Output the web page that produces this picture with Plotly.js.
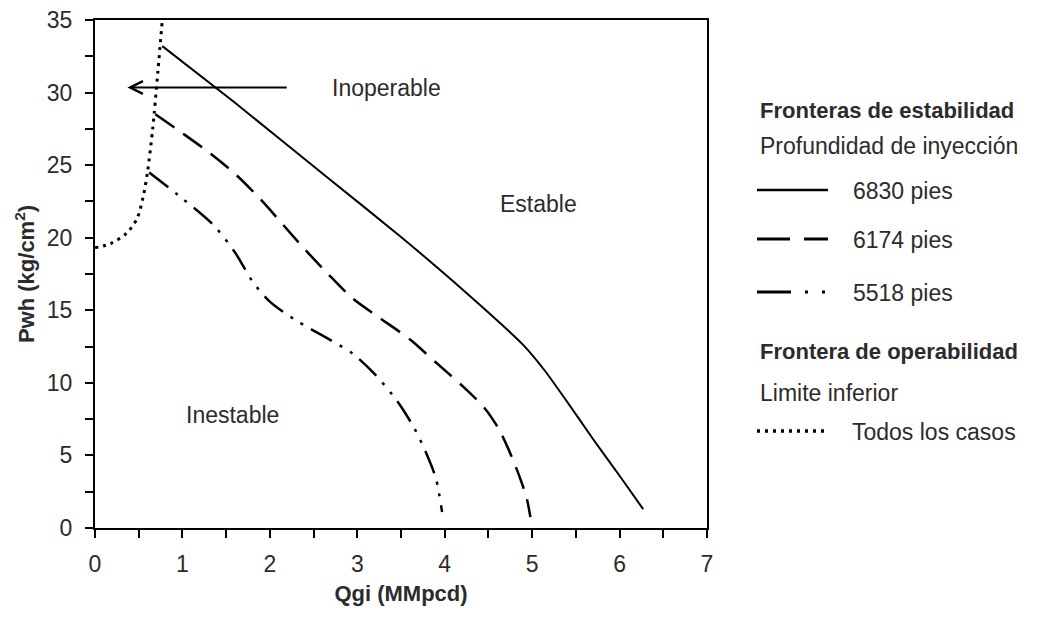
<!DOCTYPE html>
<html>
<head>
<meta charset="utf-8">
<script src="https://cdn.plot.ly/plotly-3.0.1.min.js"></script>
<style>html,body{margin:0;padding:0;background:#fff;}</style>
</head>
<body>
<div id="chart" style="width:1040px;height:617px;"></div>
<script>
// ---- data ----
const qgi6830 = [0.77, 1.58, 2.69, 3.49, 4.21, 4.90, 5.15, 5.40, 5.70, 6.00, 6.27];
const pwh6830 = [33.2, 29.4, 24.0, 20.1, 16.4, 12.6, 10.8, 8.7, 6.1, 3.6, 1.3];

const qgi6174 = [0.69, 1.00, 1.32, 1.62, 1.90, 2.15, 2.40, 2.65, 2.95, 3.25, 3.60, 3.90, 4.20, 4.45, 4.62, 4.76, 4.87, 4.94, 4.98];
const pwh6174 = [28.5, 27.2, 25.8, 24.3, 22.6, 20.9, 19.2, 17.6, 15.8, 14.5, 13.0, 11.4, 9.8, 8.3, 6.8, 5.0, 3.3, 2.0, 0.75];

const qgi5518 = [0.62, 1.00, 1.35, 1.60, 1.80, 2.00, 2.30, 2.65, 2.95, 3.20, 3.45, 3.65, 3.80, 3.90, 3.97];
const pwh5518 = [24.5, 22.7, 20.9, 19.0, 17.0, 15.6, 14.3, 13.1, 12.0, 10.6, 8.8, 6.9, 5.0, 3.4, 1.1];

const qgiLim = [0.00, 0.18, 0.36, 0.48, 0.55, 0.60, 0.66, 0.72, 0.77];
const pwhLim = [19.3, 19.6, 20.3, 21.3, 22.8, 24.5, 27.5, 31.5, 35.0];

const seriesNames = ["6830 pies", "6174 pies", "5518 pies", "Todos los casos"];
const regionLabels = ["Inoperable", "Estable", "Inestable"];
const regionX = [3.33, 5.07, 1.57];
const regionY = [30.3, 22.3, 7.8];
const arrowFrom = [2.21, 30.35];
const arrowTo = [0.37, 30.35];
const legendHeaders = ["Fronteras de estabilidad", "Profundidad de inyección", "Frontera de operabilidad", "Limite inferior"];

// ---- styles ----
const FONT = "Liberation Sans, Arial, sans-serif";
const TXT = "#2b2b2b";
const FS = 23;
const dashes = ["solid", "23px,11px", "24px,9px,3px,9px,3px,9px", "3px,5px"];
const widths = [2, 2.5, 2.5, 3];
const smooth = [0.5, 0.8, 0.8, 0.8];

const xs = [qgi6830, qgi6174, qgi5518, qgiLim];
const ys = [pwh6830, pwh6174, pwh5518, pwhLim];
const traces = seriesNames.map((n, i) => ({
  x: xs[i], y: ys[i], name: n, mode: "lines",
  line: {color: "#000", width: widths[i], dash: dashes[i], shape: "spline", smoothing: smooth[i]}
}));

// plot area in pixels
const L = 95, R = 707, T = 20, B = 528;
const px = v => (v - L) / (R - L);
const py = v => (B - v) / (B - T);

const annotations = [];
regionLabels.forEach((t, i) => annotations.push({
  x: regionX[i], y: regionY[i], xref: "x", yref: "y", text: t, showarrow: false,
  font: {family: FONT, size: FS, color: TXT}
}));
annotations.push({
  x: arrowTo[0], y: arrowTo[1], ax: arrowFrom[0], ay: arrowFrom[1], axref: "x", ayref: "y",
  xref: "x", yref: "y", text: "", showarrow: true, arrowhead: 5, arrowsize: 1.4, arrowwidth: 1.8, arrowcolor: "#000"
});

// legend (drawn manually)
const legX = 758;
const hdr = [[legendHeaders[0], 110, true], [legendHeaders[1], 146, false], [legendHeaders[2], 351, true], [legendHeaders[3], 393, false]];
hdr.forEach(h => annotations.push({
  x: px(legX), y: py(h[1]), xref: "paper", yref: "paper", xanchor: "left", yanchor: "middle",
  text: h[2] ? "<b>" + h[0] + "</b>" : h[0], showarrow: false,
  font: {family: FONT, size: h[2] ? 22 : FS, color: TXT}
}));
const entryY = [191, 240, 293, 432];
const textX = [851, 851, 851, 850];
seriesNames.forEach((n, i) => annotations.push({
  x: px(textX[i]), y: py(entryY[i]), xref: "paper", yref: "paper", xanchor: "left", yanchor: "middle",
  text: n, showarrow: false, font: {family: FONT, size: FS, color: TXT}
}));
const shapes = seriesNames.map((n, i) => ({
  type: "line", xref: "paper", yref: "paper",
  x0: px(757), x1: px(i === 3 ? 824 : 828), y0: py(entryY[i] - 1), y1: py(entryY[i] - 1),
  line: {color: "#000", width: widths[i] + 0.5, dash: i === 1 ? "33px,14px" : (i === 2 ? "34px,14px,3px,14px,3px,20px" : dashes[i])}
}));

const axisCommon = {
  showgrid: false, zeroline: false, showline: true, linecolor: "#000", linewidth: 2,
  ticks: "outside", ticklen: 8, tickwidth: 2, tickcolor: "#000",
  tickfont: {family: FONT, size: FS, color: TXT}, mirror: true
};

const layout = {
  width: 1040, height: 617,
  margin: {l: L, r: 1040 - R, t: T, b: 617 - B},
  paper_bgcolor: "#fff", plot_bgcolor: "#fff",
  showlegend: false,
  xaxis: Object.assign({}, axisCommon, {
    range: [0, 7], dtick: 1, tick0: 0, ticklabelstandoff: 6,
    minor: {dtick: 0.5, ticks: "outside", ticklen: 8, tickwidth: 2, tickcolor: "#000"},
    title: {text: "<b>Qgi (MMpcd)</b>", font: {family: FONT, size: 22, color: TXT}, standoff: 10}
  }),
  yaxis: Object.assign({}, axisCommon, {
    range: [0, 35], dtick: 5, tick0: 0, ticklabelstandoff: 8,
    minor: {dtick: 2.5, ticks: "outside", ticklen: 8, tickwidth: 2, tickcolor: "#000"},
    title: {text: "<b>Pwh (kg/cm<sup>2</sup>)</b>", font: {family: FONT, size: 22, color: TXT}, standoff: 6}
  }),
  annotations: annotations,
  shapes: shapes
};

Plotly.newPlot("chart", traces, layout, {displayModeBar: false, staticPlot: true});
</script>
</body>
</html>
